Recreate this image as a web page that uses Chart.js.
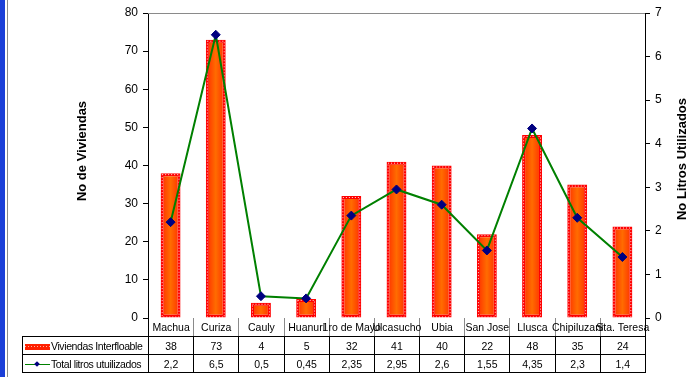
<!DOCTYPE html>
<html>
<head>
<meta charset="utf-8">
<title>Viviendas y litros</title>
<script src="https://cdn.jsdelivr.net/npm/chart.js@4.4.1/dist/chart.umd.min.js"></script>
<style>
    html, body { margin: 0; padding: 0; background: #fff; }
    #wrap { position: relative; width: 697px; height: 377px; overflow: hidden; font-family: "Liberation Sans", Arial, sans-serif; }
    #bluebar { position: absolute; left: 0; top: 0; width: 5px; height: 377px; background: #1b3fd8; }
    #frame { position: absolute; left: 7px; top: 0; width: 1px; height: 377px; background: #8a8a8a; }
    #chart { position: absolute; left: 0; top: 0; }
    #tbl { position: absolute; left: 22px; top: 318px; border-collapse: collapse; table-layout: fixed; font-size: 10.5px; color: #000; }
    #tbl td { padding: 0; white-space: nowrap; text-align: center; overflow: visible; }
    #tbl tr.cats td { height: 18px; border-left: 1px solid #8a8a8a; border-right: 1px solid #8a8a8a; border-bottom: 1px solid #000; }
    #tbl tr.cats td.blank { border: none; }
    #tbl tr.cats td.first { border-left: 1px solid #000; }
    #tbl tr.cats td.last { border-right: 1px solid #000; }
    #tbl tr.vals td { height: 17px; border: 1px solid #000; }
    #tbl td .c { display: flex; justify-content: center; }
    #tbl td.head { text-align: left; overflow: hidden; letter-spacing: -0.4px; }
    .key-bar { display: inline-block; width: 25px; height: 6px; margin: 0 1px 0 2px; vertical-align: 0px;
        background: repeating-linear-gradient(90deg, #ffb0a0 0 1px, transparent 1px 3px) center / 100% 1px no-repeat, #ff2000; }
    .key-line { display: inline-block; position: relative; width: 25px; height: 8px; margin: 0 1px 0 2px; vertical-align: -1px; }
    .key-line:before { content: ""; position: absolute; left: 0; right: 0; top: 3px; height: 1px; background: #008000; }
    .key-line:after { content: ""; position: absolute; left: 10px; top: 1px; width: 4px; height: 4px; background: #000080; transform: rotate(45deg); }
</style>
</head>
<body>
<div id="wrap">
    <div id="bluebar"></div>
    <div id="frame"></div>
    <canvas id="chart" width="697" height="377"></canvas>
    <table id="tbl"></table>
</div>
<script>
    // data
    const sites = ['Machua', 'Curiza', 'Cauly', 'Huanuri', '1ro de Mayo', 'Ulcasucho', 'Ubia', 'San Jose', 'Llusca', 'Chipiluzani', 'Sta. Teresa'];
    const viviendas = [38, 73, 4, 5, 32, 41, 40, 22, 48, 35, 24];
    const litros = [2.2, 6.5, 0.5, 0.45, 2.35, 2.95, 2.6, 1.55, 4.35, 2.3, 1.4];
    const seriesNames = ['Viviendas Interfloable', 'Total litros utuilizados'];
    const leftTitle = 'No de Viviendas';
    const rightTitle = 'No Litros Utilizados';
    const leftMax = 80, leftStep = 10;
    const rightMax = 7, rightStep = 1;

    const fontFamily = '"Liberation Sans", Arial, sans-serif';
    const barPct = 0.44;

    // orange bar with darker sides
    function barFill(ctx) {
        const chart = ctx.chart;
        const xs = chart.scales.x;
        if (!xs || ctx.dataIndex === undefined) return '#ff5a00';
        const cx = xs.getPixelForValue(ctx.dataIndex);
        const half = xs.width / sites.length * barPct / 2;
        if (!isFinite(cx) || !isFinite(half) || half <= 0) return '#ff5a00';
        const g = chart.ctx.createLinearGradient(cx - half, 0, cx + half, 0);
        g.addColorStop(0, '#ff2a00');
        g.addColorStop(0.5, '#ff6c00');
        g.addColorStop(1, '#ff2a00');
        return g;
    }

    // white dots inside the red bar border, plus the grey top frame line
    const barDots = {
        id: 'barDots',
        afterDatasetDraw(chart, args) {
            if (args.index !== 0) return;
            const c = chart.ctx;
            c.save();
            c.strokeStyle = 'rgba(255,255,255,0.85)';
            c.lineWidth = 1;
            c.setLineDash([1, 2]);
            args.meta.data.forEach(function (bar) {
                const w = bar.width;
                c.strokeRect(bar.x - w / 2 + 1.5, bar.y + 1.5, w - 3, bar.base - bar.y - 2);
            });
            c.restore();
        },
        beforeDatasetsDraw(chart) {
            const a = chart.chartArea;
            const c = chart.ctx;
            c.save();
            c.strokeStyle = '#8a8a8a';
            c.lineWidth = 1;
            c.beginPath();
            c.moveTo(a.left, a.top + 0.5);
            c.lineTo(a.right, a.top + 0.5);
            c.stroke();
            c.restore();
        }
    };

    // axis titles, both read bottom to top
    const axisTitles = {
        id: 'axisTitles',
        afterDraw(chart) {
            const c = chart.ctx;
            c.save();
            c.font = 'bold 13px ' + fontFamily;
            c.fillStyle = '#000';
            c.textAlign = 'center';
            c.textBaseline = 'middle';
            [[leftTitle, 82, 151], [rightTitle, 682, 159]].forEach(function (t) {
                c.save();
                c.translate(t[1], t[2]);
                c.rotate(-Math.PI / 2);
                c.fillText(t[0], 0, 0);
                c.restore();
            });
            c.restore();
        }
    };

    const chart = new Chart(document.getElementById('chart'), {
        data: {
            labels: sites,
            datasets: [{
                type: 'bar',
                label: seriesNames[0],
                data: viviendas,
                yAxisID: 'y',
                backgroundColor: barFill,
                borderColor: '#ff0000',
                borderWidth: 3,
                borderSkipped: false,
                barPercentage: barPct,
                categoryPercentage: 1,
                order: 1
            }, {
                type: 'line',
                label: seriesNames[1],
                data: litros,
                yAxisID: 'y1',
                borderColor: '#008000',
                borderWidth: 2,
                tension: 0,
                pointStyle: 'rectRot',
                pointRadius: 4.5,
                pointBackgroundColor: '#000080',
                pointBorderColor: '#000080',
                pointBorderWidth: 1,
                order: 0
            }]
        },
        options: {
            responsive: false,
            devicePixelRatio: 1,
            animation: false,
            layout: { padding: { top: 13, bottom: 59, left: 0, right: 0 } },
            plugins: {
                legend: { display: false },
                tooltip: { enabled: false }
            },
            scales: {
                x: { type: 'category', display: false, offset: true },
                y: {
                    position: 'left',
                    min: 0, max: leftMax,
                    ticks: { stepSize: leftStep, color: '#000', padding: 5, font: { family: fontFamily, size: 12 } },
                    grid: { drawOnChartArea: false, color: '#000', tickLength: 5 },
                    border: { color: '#000', width: 1 },
                    afterFit: function (s) { s.width = 148; }
                },
                y1: {
                    position: 'right',
                    min: 0, max: rightMax,
                    ticks: { stepSize: rightStep, color: '#000', padding: 5, font: { family: fontFamily, size: 12 } },
                    grid: { drawOnChartArea: false, color: '#000', tickLength: 5 },
                    border: { color: '#000', width: 1 },
                    afterFit: function (s) { s.width = 52; }
                }
            }
        },
        plugins: [barDots, axisTitles]
    });

    // data table under the plot, columns follow the x scale
    function fmt(v) { return String(v).replace('.', ','); }

    function buildTable() {
        const area = chart.chartArea;
        const tbl = document.getElementById('tbl');
        const colW = (area.right - area.left) / sites.length;
        tbl.style.width = (area.right - 22) + 'px';
        let html = '<colgroup><col style="width:' + (area.left - 22) + 'px">';
        sites.forEach(function () { html += '<col style="width:' + colW + 'px">'; });
        html += '</colgroup>';

        html += '<tr class="cats"><td class="blank"></td>';
        sites.forEach(function (s, i) {
            const cls = i === 0 ? 'first' : (i === sites.length - 1 ? 'last' : '');
            html += '<td class="' + cls + '"><div class="c"><span>' + s + '</span></div></td>';
        });
        html += '</tr>';

        html += '<tr class="vals"><td class="head"><span class="key-bar"></span>' + seriesNames[0] + '</td>';
        viviendas.forEach(function (v) { html += '<td>' + fmt(v) + '</td>'; });
        html += '</tr>';

        html += '<tr class="vals"><td class="head"><span class="key-line"></span>' + seriesNames[1] + '</td>';
        litros.forEach(function (v) { html += '<td>' + fmt(v) + '</td>'; });
        html += '</tr>';

        tbl.innerHTML = html;
    }
    buildTable();
</script>
</body>
</html>
